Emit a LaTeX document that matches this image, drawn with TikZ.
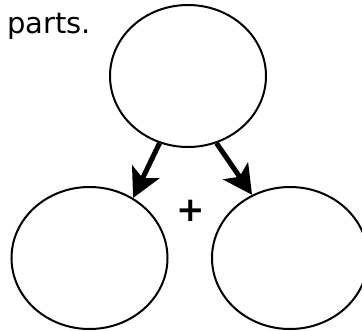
\documentclass[tikz,border=0pt]{standalone}
\usepackage{fontspec}
\setmainfont{DejaVu Sans}
\usetikzlibrary{shapes.geometric, arrows.meta}

\begin{document}
\begin{tikzpicture}[x=1pt, y=-1pt,
    part/.style={ellipse, draw, line width=2pt, minimum width=156pt, minimum height=142pt, inner sep=0pt},
    label/.style={inner sep=0pt, font=\fontsize{29}{34}\selectfont},
    split/.style={line width=5pt, -{Stealth[length=29pt, width=30pt, inset=7pt]}}]
    \useasboundingbox (0,0) rectangle (362,330);

    % Wierzchołki
    \node[part] (whole) at (188, 76) {};
    \node[part] (left) at (89.5, 258) {};
    \node[part] (right) at (290, 258) {};

    % Teksty
    \node[label, anchor=base west] (title) at (7, 33) {parts.};
    \node[label, font=\fontsize{34}{40}\selectfont\bfseries] (plus) at (191, 211) {+};

    % Krawędzie
    \draw[split] (whole.247) -- (left.54);
    \draw[split] (whole.293) -- (right.121);
\end{tikzpicture}
\end{document}
